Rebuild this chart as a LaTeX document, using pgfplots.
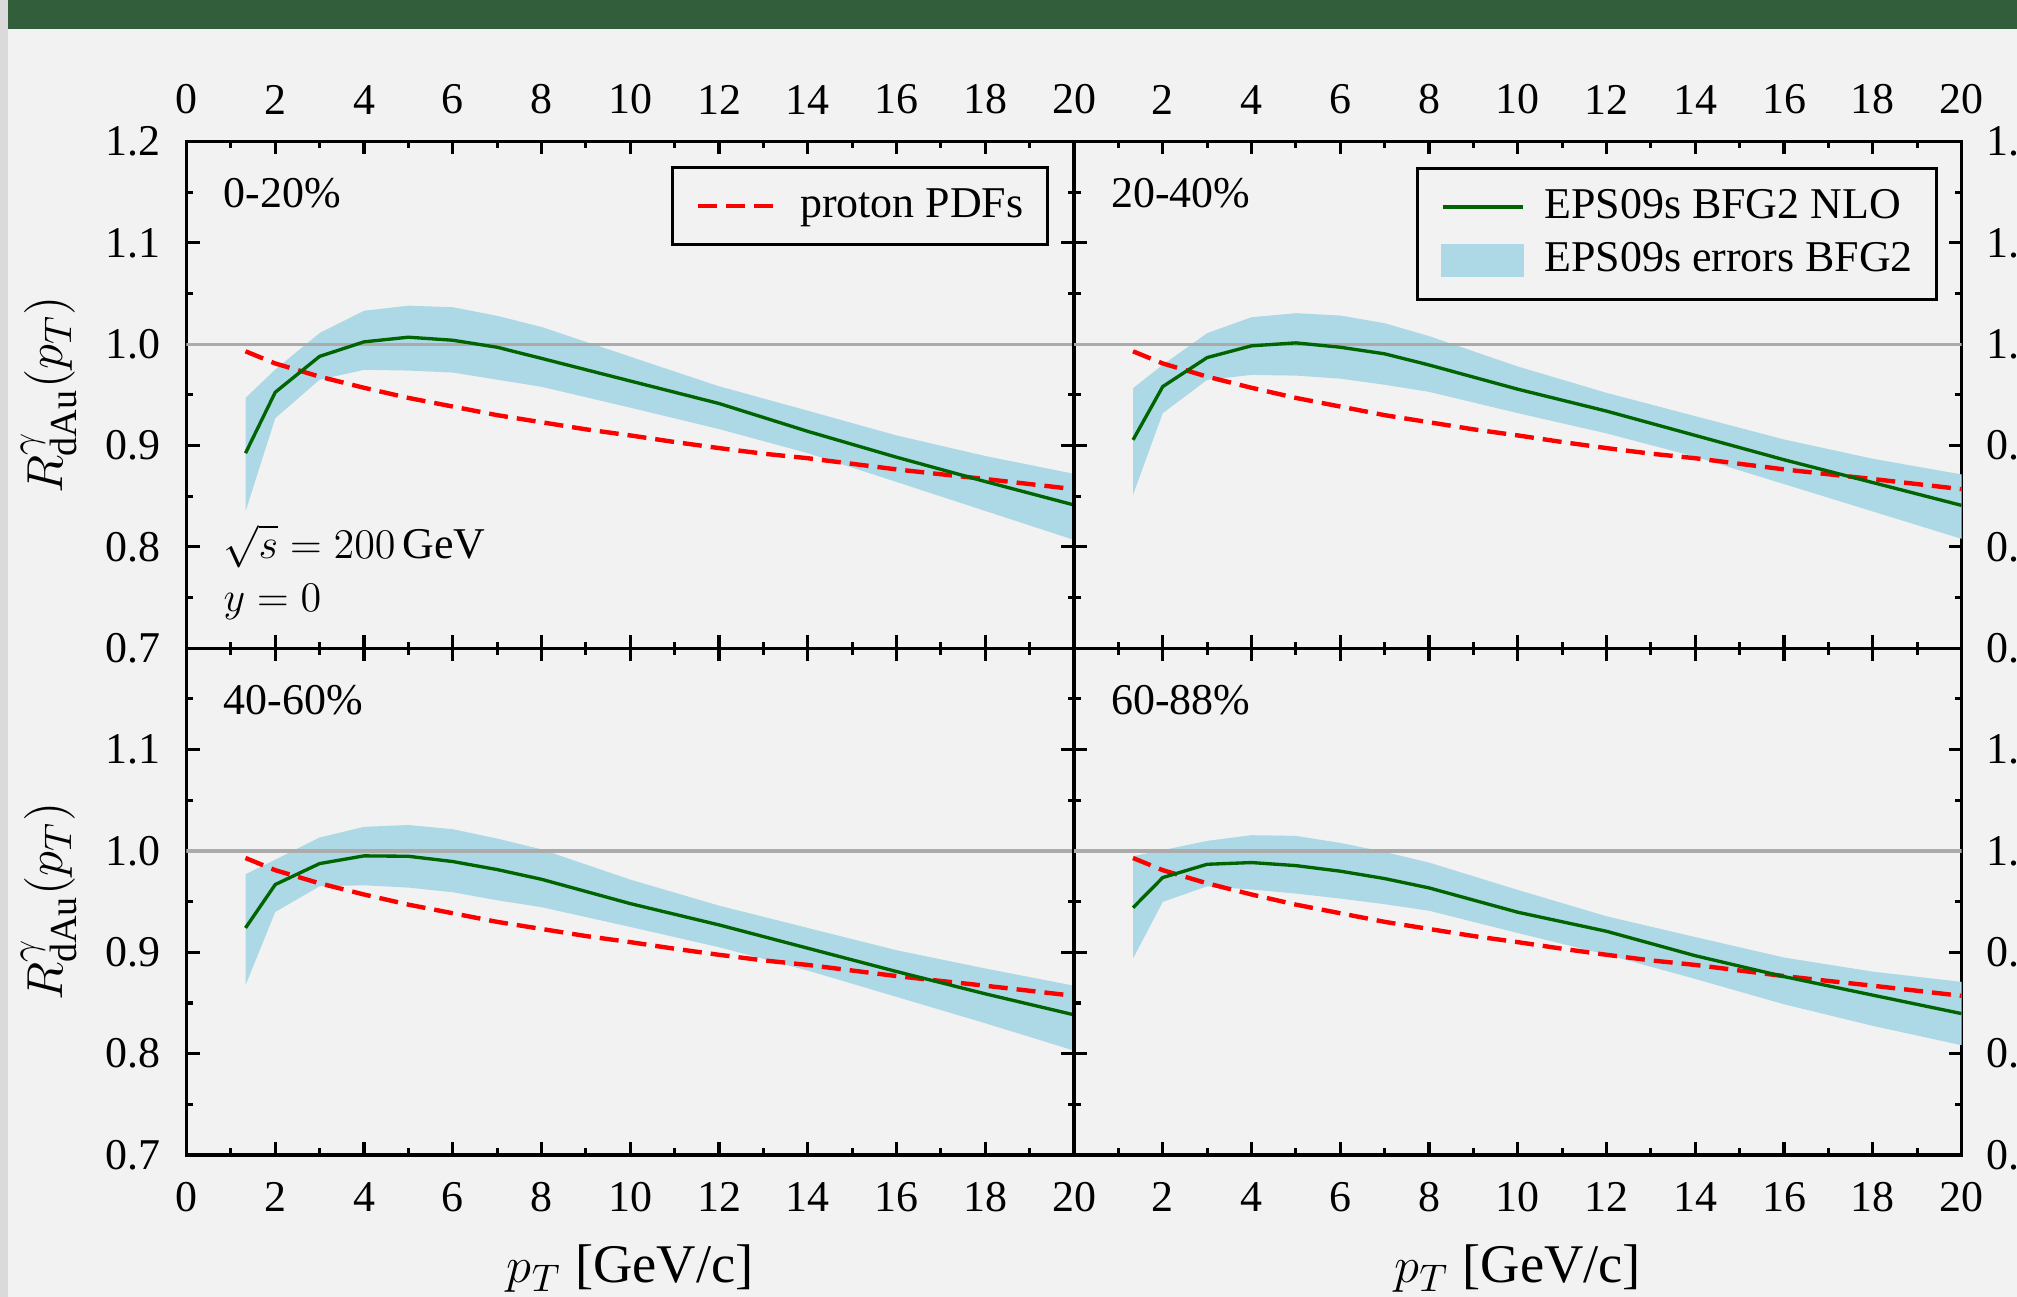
\documentclass[border=0pt]{standalone}
\usepackage{fontspec}
\setmainfont{Liberation Serif}
\usepackage{pgfplots}
\pgfplotsset{compat=1.18}
\definecolor{bgc}{HTML}{F2F2F2}
\definecolor{hdr}{RGB}{51,94,60}
\definecolor{stripc}{HTML}{DADADA}
\definecolor{bandc}{HTML}{ADD8E6}
\definecolor{grn}{HTML}{006400}
\definecolor{refl}{HTML}{ABABAB}
\pgfplotsset{
  panel/.style={
    scale only axis, width=8.875cm, height=5.068cm, anchor=south west,
    xmin=0, xmax=20, ymin=0.7, ymax=1.2,
    xtick={0,2,4,6,8,10,12,14,16,18,20}, ytick={0.7,0.8,0.9,1.0,1.1,1.2},
    minor x tick num=1, minor y tick num=1,
    tick align=inside,
    major tick length=0.13cm, minor tick length=0.065cm,
    axis line style={line width=0.9pt},
    every tick/.style={black, line width=0.9pt},
    font=\fontsize{12.5}{15}\selectfont,
    legend cell align=left,
    legend image code/.code={\draw[##1] (0cm,0cm) -- (0.8cm,0cm);},
    legend style={draw=black, line width=0.85pt, fill=none,
      inner xsep=0.235cm, inner ysep=0.168cm, row sep=0.1cm, column sep=0.2cm,
      font=\fontsize{12.5}{15}\selectfont,
      nodes={inner sep=0pt, text height=9.4pt, text depth=3.1pt},
      anchor=north east},
    every axis y label/.style={at={(axis description cs:-0.155,0.5)}, anchor=center, rotate=90, font=\fontsize{15.5}{18}\selectfont},
    every axis x label/.style={at={(axis description cs:0.5,-0.2526)}, anchor=base, font=\fontsize{15.5}{18}\selectfont},
  },
  toprow/.style={xticklabel pos=upper, xticklabel shift=0.15cm},
  botrow/.style={xticklabel pos=lower, xticklabel shift=0.15cm, xlabel={$p_T$ [GeV/c]}},
  leftcol/.style={yticklabel pos=left, yticklabel shift=0.14cm, ylabel={$R^{\gamma}_{\mathrm{dAu}}(p_T)$}},
  rightcol/.style={yticklabel pos=right, yticklabel shift=0.125cm},
  redc/.style={red, line width=1.25pt, dash pattern=on 0.19cm off 0.09cm},
  grnc/.style={grn, line width=0.95pt},
  bandst/.style={fill=bandc, draw=none, forget plot},
}
\begin{document}
\begin{tikzpicture}
\useasboundingbox (0,0) rectangle (20.17cm,12.97cm);
\clip (0,0) rectangle (20.17cm,12.97cm);
\fill[bgc] (0,0) rectangle (20.17cm,12.97cm);
\fill[stripc] (0,0) rectangle (0.08cm,12.97cm);
\fill[hdr] (0.08cm,12.68cm) rectangle (20.17cm,12.97cm);

% ---------------- top left: 0-20%
\begin{axis}[panel, toprow, leftcol, at={(1.865cm,6.487cm)},
  xticklabels={0,2,4,6,8,10,12,14,16,18,20},
  yticklabels={0.7,0.8,0.9,1.0,1.1,1.2},
  legend style={at={(0.9713,0.9517)}}]
\addplot[bandst] coordinates {(1.33,0.947)(2,0.975)(3,1.011)(4,1.033)(5,1.038)(6,1.0365)(7,1.028)(8,1.017)(10,0.9877)(12,0.9585)(14,0.9344)(16,0.910)(18,0.8897)(20,0.8721)
 (20,0.8069)(18,0.8355)(16,0.8641)(14,0.8925)(12,0.9163)(10,0.9374)(8,0.958)(7,0.965)(6,0.972)(5,0.974)(4,0.9747)(3,0.965)(2,0.927)(1.33,0.835)};
\addplot[refl, line width=0.95pt, forget plot] coordinates {(0,1) (20,1)};
\addplot[redc] coordinates {(1.33,0.993)(2,0.981)(3,0.968)(4,0.957)(5,0.947)(6,0.9385)(7,0.930)(8,0.923)(9,0.916)(10,0.910)(11,0.9035)(12,0.8975)(13,0.892)(14,0.8875)(15,0.882)(16,0.8765)(17,0.8717)(18,0.867)(19,0.862)(20,0.857)};
\addlegendentry{proton PDFs}
\addplot[grnc, forget plot] coordinates {(1.33,0.8925)(2,0.9526)(3,0.988)(4,1.0023)(5,1.0069)(6,1.0039)(7,0.997)(8,0.986)(10,0.9637)(12,0.9415)(14,0.914)(16,0.8885)(18,0.8645)(20,0.8414)};
\node[anchor=base west, inner sep=0pt] at (rel axis cs:0.041,0.8688) {0-20\%};
\node[anchor=base west, inner sep=0pt] at (rel axis cs:0.041,0.178) {$\sqrt{s}=200\,\mathrm{GeV}$};
\node[anchor=base west, inner sep=0pt] at (rel axis cs:0.041,0.0716) {$y=0$};
\end{axis}

% ---------------- top right: 20-40%
\begin{axis}[panel, toprow, rightcol, at={(10.74cm,6.487cm)},
  xticklabels={,2,4,6,8,10,12,14,16,18,20},
  yticklabels={0.7,0.8,0.9,1.0,1.1,1.2},
  legend style={at={(0.9735,0.9503)}}]
\addlegendimage{grnc}
\addlegendentry{EPS09s BFG2 NLO}
\addlegendimage{legend image code/.code={\fill[bandc] (0cm,-0.15cm) rectangle (0.8cm,0.15cm);}}
\addlegendentry{EPS09s errors BFG2}
\addplot[bandst] coordinates {(1.33,0.9566)(2,0.9796)(3,1.0109)(4,1.0266)(5,1.0306)(6,1.0283)(7,1.0207)(8,1.008)(10,0.978)(12,0.952)(14,0.929)(16,0.906)(18,0.887)(20,0.8715)
 (20,0.808)(18,0.835)(16,0.862)(14,0.889)(12,0.912)(10,0.932)(8,0.953)(7,0.960)(6,0.966)(5,0.969)(4,0.9697)(3,0.9648)(2,0.932)(1.33,0.8514)};
\addplot[refl, line width=0.95pt, forget plot] coordinates {(0,1) (20,1)};
\addplot[redc, forget plot] coordinates {(1.33,0.993)(2,0.981)(3,0.968)(4,0.957)(5,0.947)(6,0.9385)(7,0.930)(8,0.923)(9,0.916)(10,0.910)(11,0.9035)(12,0.8975)(13,0.892)(14,0.8875)(15,0.882)(16,0.8765)(17,0.8717)(18,0.867)(19,0.862)(20,0.857)};
\addplot[grnc, forget plot] coordinates {(1.33,0.9056)(2,0.9582)(3,0.9868)(4,0.9984)(5,1.0013)(6,0.997)(7,0.9905)(8,0.9795)(10,0.9556)(12,0.934)(14,0.910)(16,0.886)(18,0.8635)(20,0.841)};
\node[anchor=base west, inner sep=0pt] at (rel axis cs:0.041,0.8688) {20-40\%};
\end{axis}

% ---------------- bottom left: 40-60%
\begin{axis}[panel, botrow, leftcol, at={(1.865cm,1.42cm)},
  xticklabels={0,2,4,6,8,10,12,14,16,18,20},
  yticklabels={0.7,0.8,0.9,1.0,1.1,}]
\addplot[bandst] coordinates {(1.33,0.977)(2,0.9914)(3,1.0132)(4,1.0237)(5,1.0256)(6,1.0214)(7,1.0122)(8,1.0015)(10,0.9717)(12,0.946)(14,0.924)(16,0.902)(18,0.884)(20,0.867)
 (20,0.803)(18,0.830)(16,0.856)(14,0.882)(12,0.905)(10,0.925)(8,0.9445)(7,0.9513)(6,0.9592)(5,0.9638)(4,0.9661)(3,0.9651)(2,0.9398)(1.33,0.8675)};
\addplot[refl, line width=0.95pt, forget plot] coordinates {(0,1) (20,1)};
\addplot[redc, forget plot] coordinates {(1.33,0.993)(2,0.981)(3,0.968)(4,0.957)(5,0.947)(6,0.9385)(7,0.930)(8,0.923)(9,0.916)(10,0.910)(11,0.9035)(12,0.8975)(13,0.892)(14,0.8875)(15,0.882)(16,0.8765)(17,0.8717)(18,0.867)(19,0.862)(20,0.857)};
\addplot[grnc, forget plot] coordinates {(1.33,0.924)(2,0.9668)(3,0.9875)(4,0.9951)(5,0.9947)(6,0.9895)(7,0.9816)(8,0.972)(10,0.948)(12,0.927)(14,0.904)(16,0.881)(18,0.859)(20,0.8383)};
\node[anchor=base west, inner sep=0pt] at (rel axis cs:0.041,0.8688) {40-60\%};
\end{axis}

% ---------------- bottom right: 60-88%
\begin{axis}[panel, botrow, rightcol, at={(10.74cm,1.42cm)},
  xticklabels={,2,4,6,8,10,12,14,16,18,20},
  yticklabels={0.7,0.8,0.9,1.0,1.1,}]
\addplot[bandst] coordinates {(1.33,0.9947)(2,1.0007)(3,1.0099)(4,1.0155)(5,1.0148)(6,1.0079)(7,0.999)(8,0.9885)(10,0.9615)(12,0.9355)(14,0.915)(16,0.8948)(18,0.8809)(20,0.8708)
 (20,0.8083)(18,0.8274)(16,0.8487)(14,0.8737)(12,0.8977)(10,0.919)(8,0.941)(7,0.9474)(6,0.953)(5,0.9579)(4,0.9619)(3,0.9651)(2,0.9497)(1.33,0.8938)};
\addplot[refl, line width=0.95pt, forget plot] coordinates {(0,1) (20,1)};
\addplot[redc, forget plot] coordinates {(1.33,0.993)(2,0.981)(3,0.968)(4,0.957)(5,0.947)(6,0.9385)(7,0.930)(8,0.923)(9,0.916)(10,0.910)(11,0.9035)(12,0.8975)(13,0.892)(14,0.8875)(15,0.882)(16,0.8765)(17,0.8717)(18,0.867)(19,0.862)(20,0.857)};
\addplot[grnc, forget plot] coordinates {(1.33,0.944)(2,0.9737)(3,0.9868)(4,0.9885)(5,0.9855)(6,0.980)(7,0.9727)(8,0.9635)(10,0.9395)(12,0.9207)(14,0.8966)(16,0.876)(18,0.8577)(20,0.8395)};
\node[anchor=base west, inner sep=0pt] at (rel axis cs:0.041,0.8688) {60-88\%};
\end{axis}
\end{tikzpicture}
\end{document}
